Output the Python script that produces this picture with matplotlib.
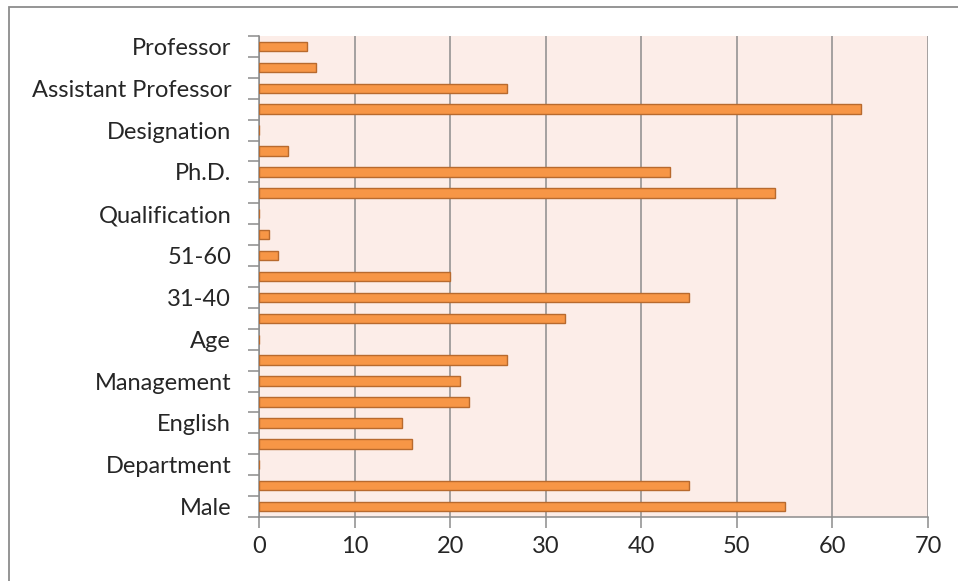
import numpy as np
import matplotlib
matplotlib.use("Agg")
import matplotlib.pyplot as plt
from matplotlib.patches import Rectangle

# respondent profile, bottom row first
categories = ["Male", "Female", "Department", "Commerce", "English", "Science",
              "Management", "Computer Science", "Age", "21-30", "31-40", "41-50",
              "51-60", "Above 60", "Qualification", "PG", "Ph.D.", "Others",
              "Designation", "Lecturer", "Assistant Professor",
              "Associate Professor", "Professor"]
counts = [55, 45, 0, 16, 15, 22, 21, 26, 0, 32, 45, 20, 2, 1, 0, 54, 43, 3,
          0, 63, 26, 6, 5]
x_ticks = [0, 10, 20, 30, 40, 50, 60, 70]

plt.rcParams['font.family'] = ['Lato', 'DejaVu Sans']

fig = plt.figure(figsize=(9.58, 5.81), dpi=100)
ax = fig.add_axes([259 / 958, 1 - 517 / 581, (928 - 259) / 958, (517 - 36) / 581])

pos = np.arange(len(categories))
ax.barh(pos, counts, height=0.45, color='#F79646', edgecolor='#B86A2E',
        linewidth=1.0, zorder=3)

ax.set_facecolor('#FCEDE8')
ax.set_xlim(0, 70)
ax.set_ylim(-0.5, len(categories) - 0.5)

ax.set_xticks(x_ticks)
ax.set_xticklabels([str(t) for t in x_ticks])
ax.xaxis.grid(True, color='#8C8C8C', linewidth=1.1, zorder=1)

# only every second category name fits
ax.set_yticks(pos[::2])
ax.set_yticklabels(categories[::2])
ax.set_yticks(np.arange(-0.5, len(categories), 1.0), minor=True)
ax.tick_params(axis='y', which='major', length=0, pad=20)
ax.tick_params(axis='y', which='minor', length=8, color='#8C8C8C', width=1.1)
ax.tick_params(axis='x', length=8, color='#8C8C8C', width=1.1, pad=6)
ax.tick_params(labelsize=17, labelcolor='#262626')

for side in ['top', 'right']:
    ax.spines[side].set_visible(False)
for side in ['left', 'bottom']:
    ax.spines[side].set_color('#8C8C8C')
    ax.spines[side].set_linewidth(1.1)

# chart frame
fig.patches.append(Rectangle((9 / 958, -0.1), 1.2, 1 - 7 / 581 + 0.1,
                             transform=fig.transFigure, fill=False,
                             edgecolor='#8C8C8C', linewidth=1.3))

fig.savefig("out.png", dpi=100)
